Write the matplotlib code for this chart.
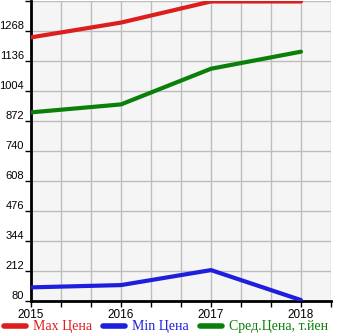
import matplotlib
matplotlib.use('Agg')
import matplotlib.pyplot as plt
import numpy as np

# price series by year
years = [2015, 2016, 2017, 2018]
max_price = [1240, 1305, 1398, 1398]
min_price = [140, 150, 216, 84]
avg_price = [910, 945, 1102, 1177]

y_ticks = [80, 212, 344, 476, 608, 740, 872, 1004, 1136, 1268]
series_labels = ['Max Цена', 'Min Цена', 'Сред.Цена, т.йен']
series_colors = ['#dd1e1e', '#1e1edd', '#0a800a']

fig = plt.figure(figsize=(3.45, 3.35), dpi=100)
ax = fig.add_axes([31 / 345, 34 / 335, 300 / 345, 300 / 335])
ax.set_facecolor('#f5f5f5')

for vals, lab, col in zip([max_price, min_price, avg_price], series_labels, series_colors):
    ax.plot(years, vals, color=col, lw=3.0, solid_capstyle='round', label=lab, zorder=3)

ax.set_xlim(2015, 2015 + 10 / 3)
ax.set_ylim(80, 1400)

# grid every third of a year / every 132 units
ax.set_xticks(years)
ax.set_xticks(np.arange(2015, 2018.4, 1 / 3), minor=True)
ax.set_yticks(y_ticks + [1400])
ax.set_yticklabels([str(v) for v in y_ticks] + [''])
ax.grid(True, which='both', color='#bdbdbd', lw=1, zorder=0)

for s in ['top', 'right']:
    ax.spines[s].set_visible(False)
for s in ['left', 'bottom']:
    ax.spines[s].set_linewidth(2)
    ax.spines[s].set_color('black')

ax.tick_params(axis='both', which='both', direction='out', length=4, width=1, colors='black')
ax.tick_params(axis='x', pad=1.5, labelsize=8.5)
ax.tick_params(axis='y', pad=1, labelsize=8)
for t in ax.get_xticklabels() + ax.get_yticklabels():
    t.set_fontfamily('Liberation Sans')
for t in ax.get_yticklabels():
    t.set_va('bottom')

leg = fig.legend(loc='lower left', bbox_to_anchor=(-0.005, -0.012), ncol=3, frameon=False,
                 prop={'family': 'Liberation Serif', 'size': 10},
                 handlelength=1.6, handletextpad=0.5, columnspacing=0.8, borderaxespad=0)
for txt, col in zip(leg.get_texts(), series_colors):
    txt.set_color(col)
for ln in leg.get_lines():
    ln.set_linewidth(4)

fig.savefig('out.png', dpi=100)
